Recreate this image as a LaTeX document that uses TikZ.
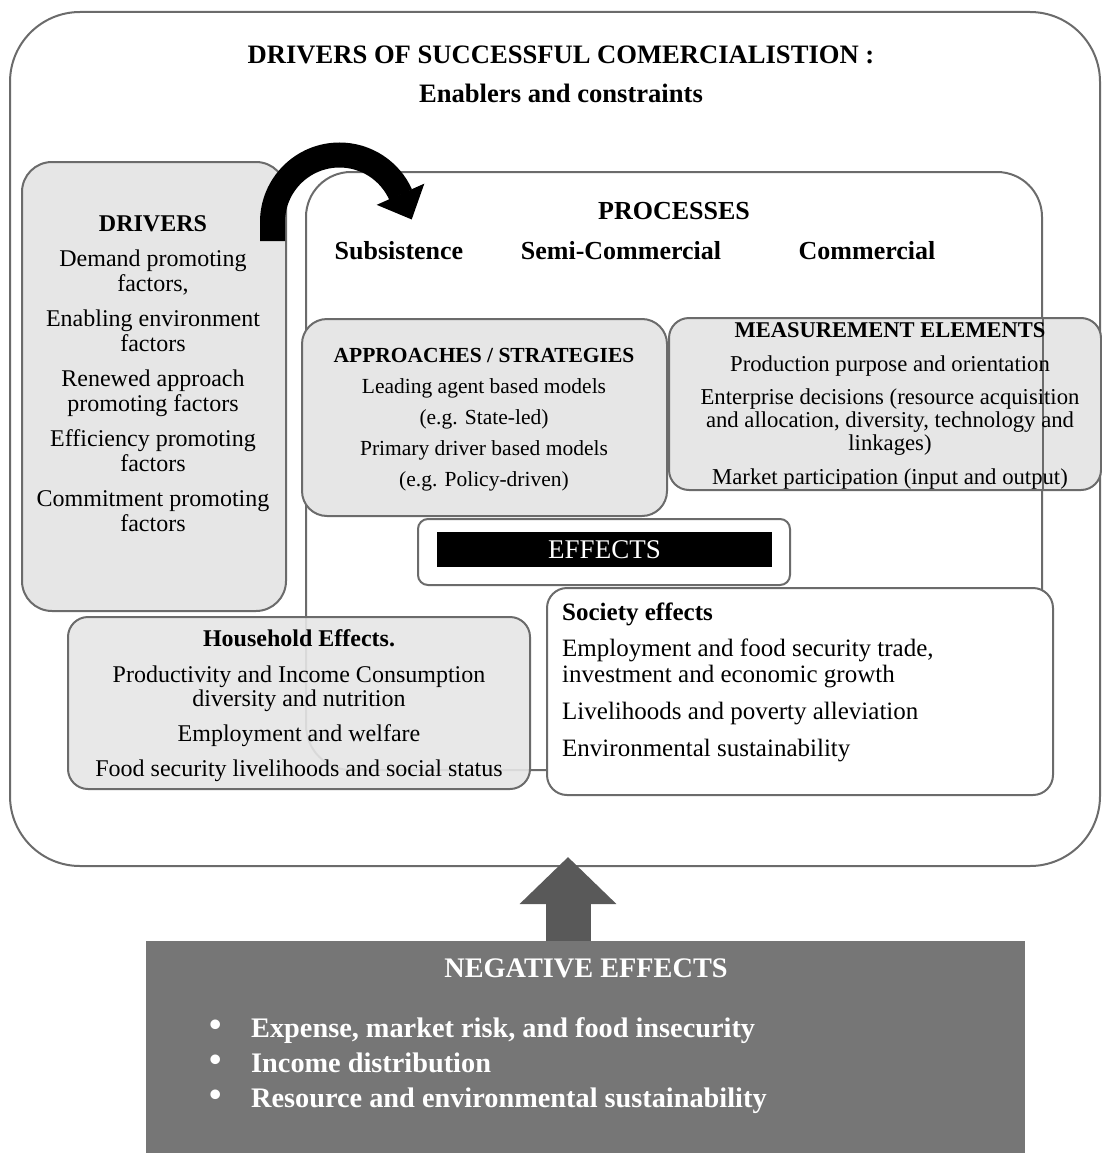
\documentclass[tikz,border=0pt]{standalone}
\usepackage{fontspec}
\setmainfont{Liberation Serif}
\usetikzlibrary{arrows.meta}
\definecolor{edge}{HTML}{6B6B6B}
\definecolor{panel}{HTML}{E6E6E6}
\definecolor{negfill}{HTML}{767676}
\definecolor{upfill}{HTML}{595959}
\newcommand\setfs[2]{\fontsize{#1}{#2}\selectfont}
\newcommand\bul{\makebox[42pt][l]{\raisebox{1pt}{\scalebox{1.25}{\textbullet}}}}
\tikzset{
  frame/.style={draw=edge, line width=2pt, inner sep=0pt, rectangle},
  panelbox/.style={frame, fill=panel},
  whitebox/.style={frame, fill=white},
  txt/.style={align=center, inner sep=0pt},
}
\begin{document}
\begin{tikzpicture}[x=1pt,y=-1pt]
\useasboundingbox (0,0) rectangle (1102,1153);

% outer frame and heading
\node[frame, minimum width=1090pt, minimum height=854pt, rounded corners=70pt] (outer) at (555,439) {};
\node[font=\setfs{26.6}{30}\bfseries] (title) at (561,55) {DRIVERS OF SUCCESSFUL COMERCIALISTION :};
\node[font=\setfs{26.6}{30}\bfseries] (subtitle) at (561,93) {Enablers and constraints};

% drivers panel
\node[panelbox, minimum width=264pt, minimum height=449pt, rounded corners=30pt] (drv) at (154,386.5) {};
\node[font=\setfs{24}{26}\bfseries] (drvtitle) at (153,224) {DRIVERS};
\node[txt, anchor=north, font=\setfs{24}{25}] (drvtext) at (153,250)
  {Demand promoting\\factors,\\[10pt]Enabling environment\\factors\\[10pt]Renewed approach\\promoting factors\\[10pt]Efficiency promoting\\factors\\[10pt]Commitment promoting\\factors};

% processes frame
\node[frame, minimum width=736pt, minimum height=598pt, rounded corners=45pt] (proc) at (674,471) {};
\node[font=\setfs{26}{30}\bfseries] (proctitle) at (674,211) {PROCESSES};
\node[font=\setfs{26}{30}\bfseries, anchor=base] (subs) at (399,259) {Subsistence};
\node[font=\setfs{26}{30}\bfseries, anchor=base] (semi) at (621,259) {Semi-Commercial};
\node[font=\setfs{26}{30}\bfseries, anchor=base] (comm) at (867,259) {Commercial};

% curved arrow from drivers into processes
\coordinate (loopstart) at (272.5,241);
\draw[black, line width=25pt] (loopstart) -- ++(0,-19) arc[start angle=180, end angle=336, radius=67] coordinate (loopend);
\fill[black, shift={(loopend)}] (23.6,-11.1) -- (-24,10.1) -- (11,24.7) -- cycle;

% approaches / strategies
\node[panelbox, minimum width=365pt, minimum height=197pt, rounded corners=25pt] (appr) at (484.5,417.5) {};
\node[font=\setfs{21.5}{24}\bfseries] (apprtitle) at (484,355) {APPROACHES / STRATEGIES};
\node[txt, anchor=north, font=\setfs{21.5}{31}] (apprtext) at (484,378.5)
  {Leading agent based models\\(e.g. State-led)\\Primary driver based models\\(e.g. Policy-driven)};

% measurement elements
\node[panelbox, minimum width=432pt, minimum height=172pt, rounded corners=20pt] (meas) at (885,404) {};
\draw[edge, line width=2pt] (meas.north -| proc.east) -- (meas.south -| proc.east);
\node[font=\setfs{22.5}{25}\bfseries] (meastitle) at (890,330) {MEASUREMENT ELEMENTS};
\node[txt, anchor=north, font=\setfs{22.7}{23}] (meastext) at (890,355.5)
  {Production purpose and orientation\\[10.5pt]Enterprise decisions (resource acquisition\\and allocation, diversity, technology and\\linkages)\\[10.5pt]Market participation (input and output)};

% effects banner
\node[whitebox, minimum width=372pt, minimum height=66pt, rounded corners=10pt] (effbox) at (604,552) {};
\node[fill=black, minimum width=335pt, minimum height=35pt, inner sep=0pt, text=white, font=\setfs{27}{30}] (eff) at (604.5,549.5) {EFFECTS};

% society effects
\node[whitebox, minimum width=506pt, minimum height=207pt, rounded corners=20pt] (soc) at (800,691.5) {};
\node[font=\setfs{25}{28}\bfseries, anchor=base west, inner sep=0pt] (soctitle) at (562,620) {Society effects};
\node[txt, align=left, anchor=north west, font=\setfs{25}{26}] (soctext) at (562,638.5)
  {Employment and food security trade,\\investment and economic growth\\[11pt]Livelihoods and poverty alleviation\\[11pt]Environmental sustainability};

% household effects
\node[panelbox, minimum width=462pt, minimum height=172pt, rounded corners=20pt, fill opacity=0.9] (hh) at (299,703) {};
\node[font=\setfs{24}{26}\bfseries] (hhtitle) at (299,638) {Household Effects.};
\node[txt, anchor=north, font=\setfs{24}{24}] (hhtext) at (299,666)
  {Productivity and Income Consumption\\diversity and nutrition\\[11pt]Employment and welfare\\[11pt]Food security livelihoods and social status};

% negative effects
\node[fill=negfill, minimum width=879pt, minimum height=213pt, inner sep=0pt] (neg) at (585.5,1047.5) {};
\node[font=\setfs{28.3}{30}\bfseries, text=white] (negtitle) at (586,968) {NEGATIVE EFFECTS};
\node[txt, align=left, anchor=north west, text=white, font=\setfs{28.3}{35}\bfseries] (neglist) at (209,1017)
  {\bul Expense, market risk, and food insecurity\\\bul Income distribution\\\bul Resource and environmental sustainability};

% upward block arrow
\coordinate (uptip) at (568,857);
\draw[upfill, line width=45pt, -{Triangle[width=94pt,length=47pt]}] (neg.north -| uptip) -- (uptip);
\end{tikzpicture}
\end{document}
